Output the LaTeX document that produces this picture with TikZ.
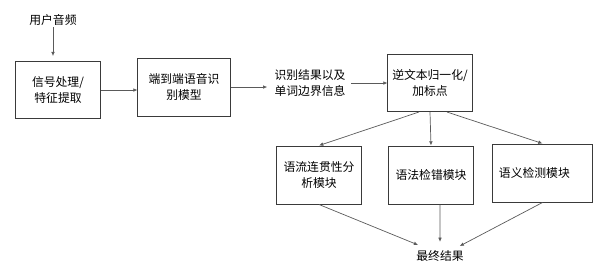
\documentclass[tikz,border=0pt]{standalone}
\usepackage{fontspec}
\setmainfont{Noto Sans CJK SC}
\usetikzlibrary{arrows.meta}
\definecolor{boxline}{HTML}{3A3A3A}
\definecolor{arrline}{HTML}{5A5A5A}
\tikzset{
  modbox/.style={draw=boxline, line width=0.7pt, align=center, inner sep=2pt,
    font=\fontsize{8.4}{12}\selectfont},
  txt/.style={inner sep=1pt, align=center, font=\fontsize{8.4}{12}\selectfont},
  arr/.style={draw=arrline, line width=0.5pt, -{Latex[length=3pt,width=2.6pt]}}
}
\begin{document}
\begin{tikzpicture}[x=0.025cm, y=-0.025cm]
        \useasboundingbox (0,0) rectangle (600,266);

        % Vstup a prvni zpracovani
        \node[txt] (audio) at (53,20) {用户音频};
        \node[modbox, minimum width=2.1cm, minimum height=1.425cm] (signal) at (58,90) {信号处理/\\特征提取};
        \node[modbox, minimum width=2.3cm, minimum height=1.45cm] (asr) at (184,87) {端到端语音识\\别模型};
        \node[txt] (asrout) at (310,83) {识别结果以及\\单词边界信息};
        \node[modbox, minimum width=2.1cm, minimum height=1.425cm] (itn) at (430,83) {逆文本归一化/\\加标点};

        % Tri moduly kontroly
        \node[modbox, minimum width=2.1cm, minimum height=1.45cm] (fluency) at (319,175) {语流连贯性分\\析模块};
        \node[modbox, minimum width=2.1cm, minimum height=1.45cm] (grammar) at (431,175) {语法检错模块};
        \node[modbox, minimum width=2.475cm, minimum height=1.45cm, text width=2.175cm,
              inner xsep=0.15cm, align=left] (semantic) at (542.5,173) {语义检测模块};
        \node[txt] (final) at (440,256) {最终结果};

        % Spojnice
        \draw[arr] (audio.south) -- ([yshift=3.5pt]signal.north -| audio);
        \draw[arr] (signal) -- (signal -| asr.west);
        \draw[arr] (asr.east) -- ([xshift=-4pt]asr.east -| asrout.west);
        \draw[arr] ([xshift=3pt]asrout.east) -- (asrout -| itn.west);
        \draw[arr] ([xshift=-7.8pt]itn.south) -- (fluency.north);
        \draw[arr] (itn.south) -- (grammar.north);
        \draw[arr] ([xshift=12pt]itn.south) -- (semantic.north);
        \draw[arr] (fluency.south) -- ([xshift=-15.6pt,yshift=2.8pt]final.north);
        \draw[arr] ([xshift=6.4pt]grammar.south) -- ([yshift=5pt]final.north);
        \draw[arr] (semantic.south) -- ([xshift=14pt,yshift=2pt]final.north);
    \end{tikzpicture}
\end{document}
